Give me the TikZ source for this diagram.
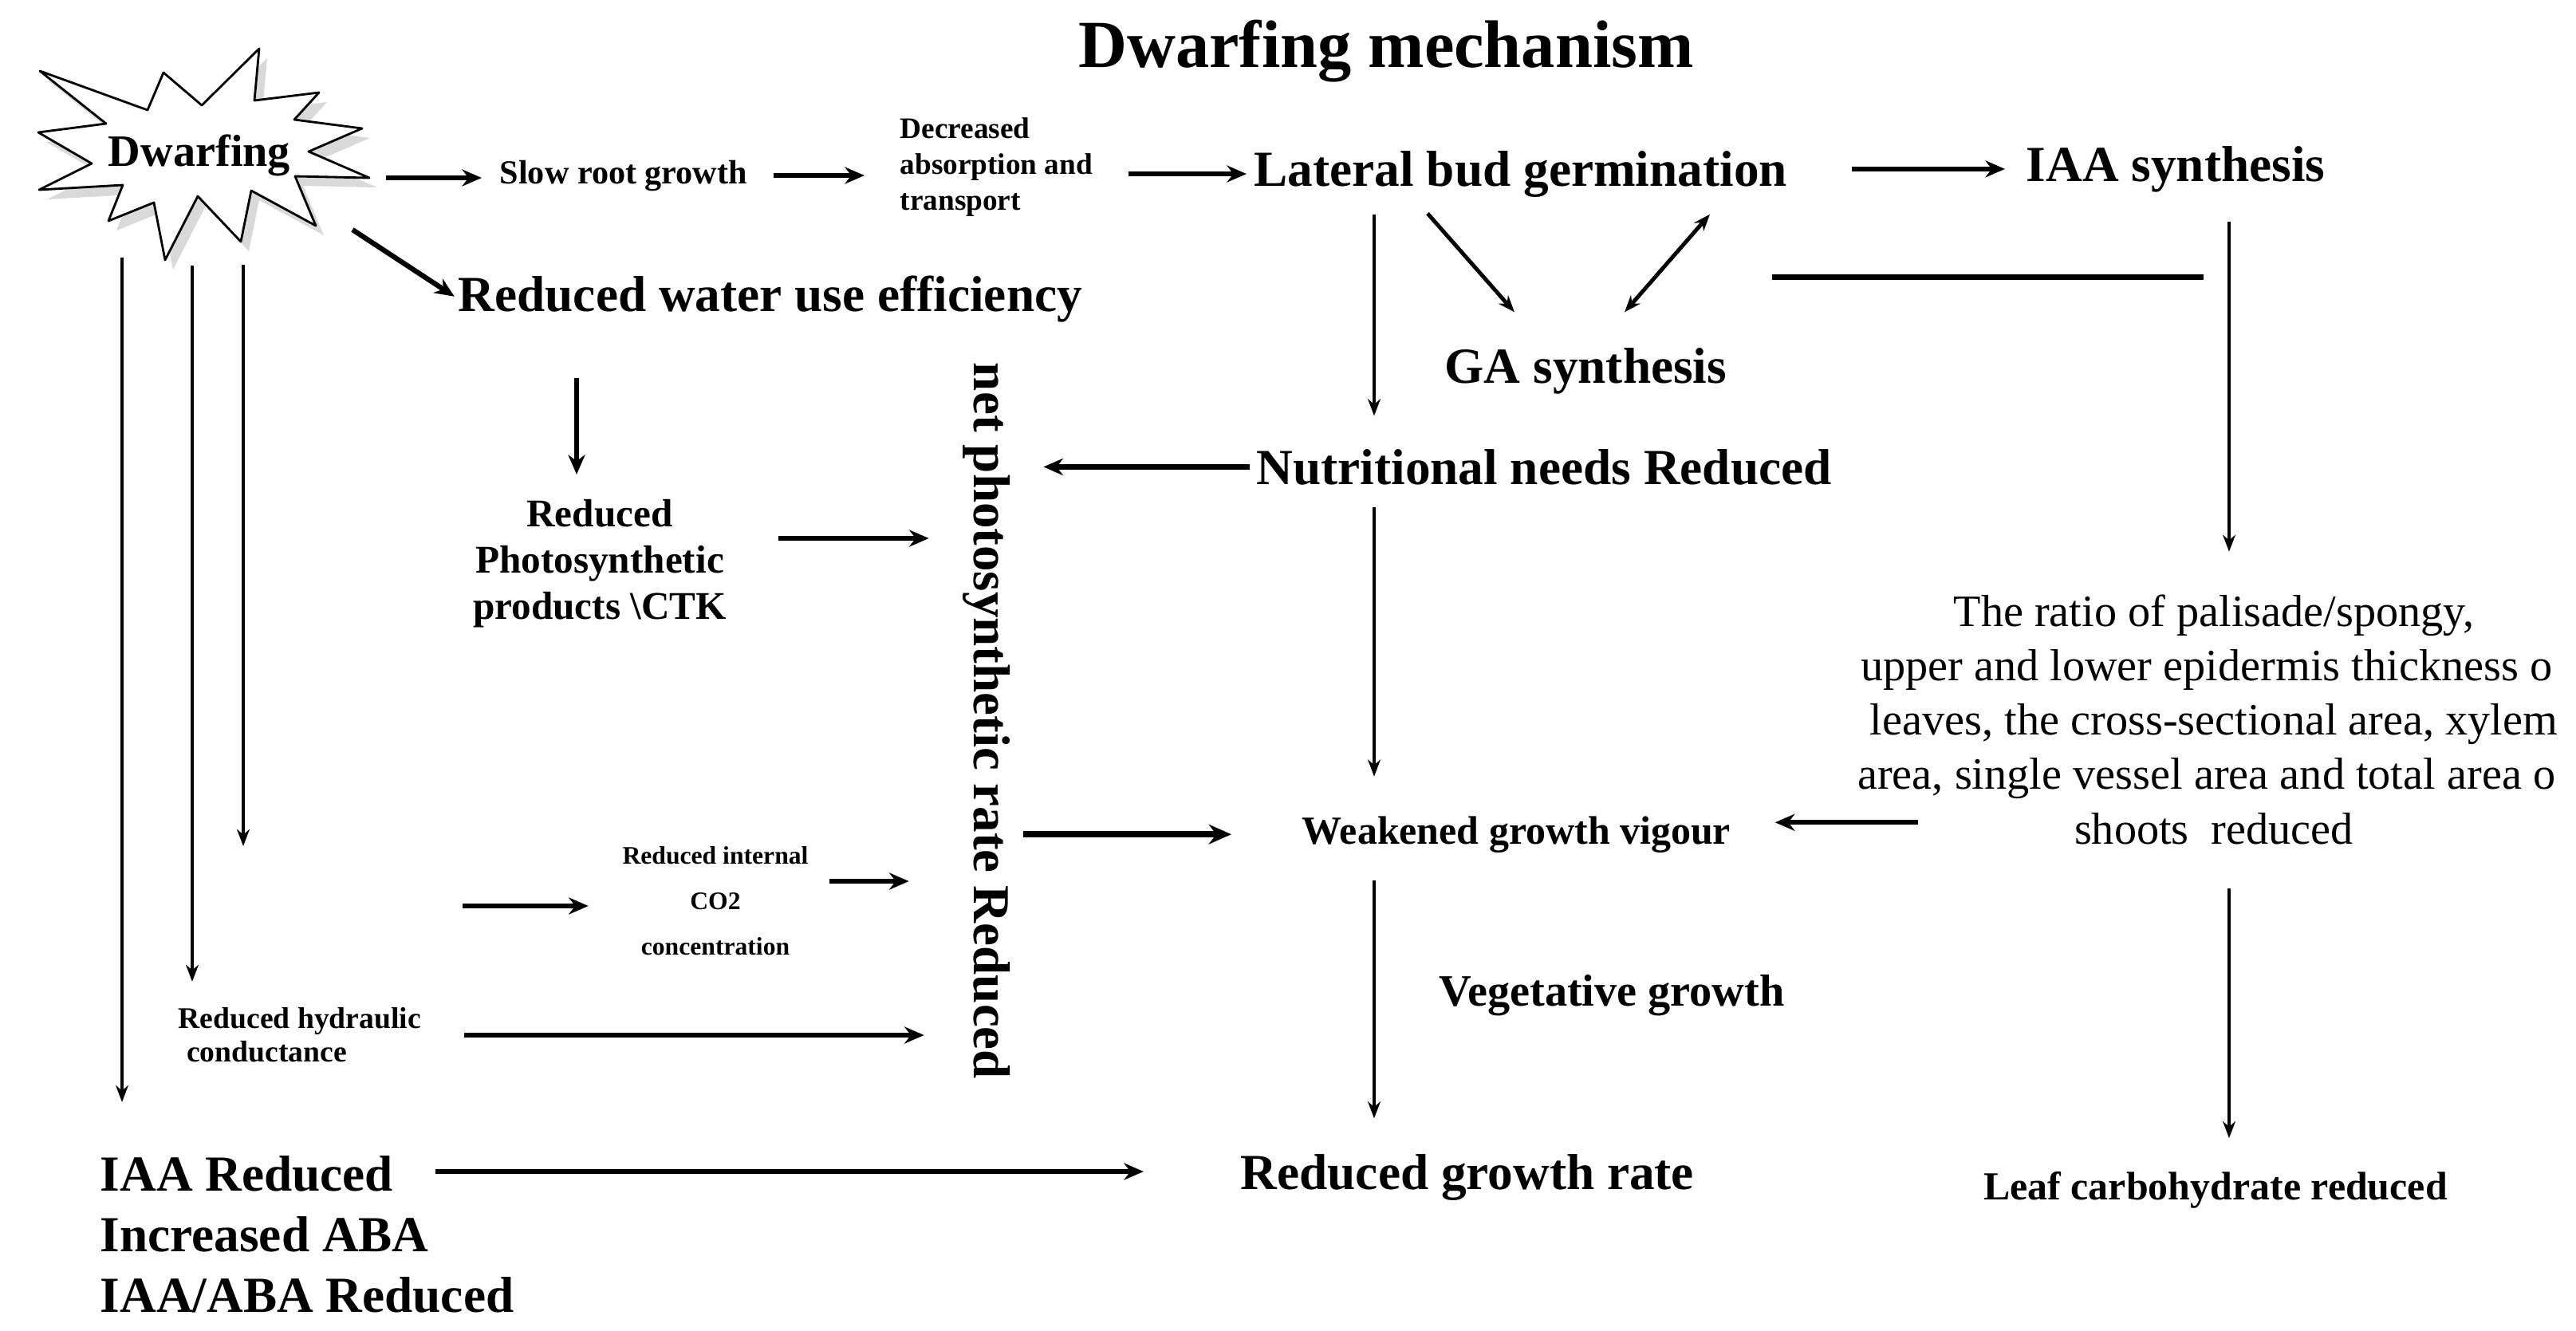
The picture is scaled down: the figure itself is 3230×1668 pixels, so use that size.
\documentclass[tikz,border=0pt]{standalone}
\usepackage{fontspec}
\setmainfont{Liberation Serif}
\usepackage{graphicx}
\usetikzlibrary{arrows.meta,calc}
\newcommand{\fsz}[2]{\fontsize{#1}{#2}\selectfont}

\begin{document}
\begin{tikzpicture}[x=0.01cm, y=-0.01cm, line join=round,
	lbl/.style={inner sep=0pt, font=\bfseries},
	big/.style={inner sep=0pt, font=\bfseries\fsz{18}{21.6}},
	arr/.style={-{Stealth[length=6pt,width=4.5pt]}, line width=1.1pt},
	arrT/.style={-{Stealth[length=7pt,width=6pt]}, line width=1.8pt},
	burst/.style={insert path={(50,89) -- (133,155) -- (48,166) -- (115,205) -- (49,238) -- (154,232) -- (136,277) -- (193,254) -- (207,326) -- (248,246) -- (302,303) -- (315,239) -- (396,283) -- (370,221) -- (463,223) -- (387,190) -- (454,161) -- (369,150) -- (400,116) -- (319,126) -- (325,61) -- (253,132) -- (205,91) -- (185,138) -- cycle}}]
	\useasboundingbox (0,0) rectangle (3230,1668);
	\fill[black!15, shift={(10,12)}, burst];
	\draw[fill=white, line width=0.8pt, burst];

	\node[lbl, anchor=base, font=\bfseries\fsz{24}{28}] (title) at (1738,84) {Dwarfing mechanism};
	\node[lbl, anchor=base, font=\bfseries\fsz{16}{19}] (dwarf) at (250,208) {Dwarfing};
	\node[lbl, anchor=base west, font=\bfseries\fsz{12}{14}] (slow) at (626,230) {Slow root growth};
	\node[lbl, anchor=west, align=left, font=\bfseries\fsz{10.6}{12.8}] (absorb) at (1128,210) {Decreased\\absorption and\\transport};
	\node[big, anchor=base west] (lateral) at (1572,233) {Lateral bud germination};
	\node[big, anchor=base west] (iaasyn) at (2540,227) {IAA synthesis};
	\node[big, anchor=base west] (water) at (574,390) {Reduced water use efficiency};
	\node[big, anchor=base west] (ga) at (1811,480) {GA synthesis};
	\node[big, anchor=base west] (nutri) at (1575,607) {Nutritional needs Reduced};
	\node[lbl, font=\bfseries\fsz{18.5}{22}] (net) at (1237,904) {\rotatebox{-90}{net photosynthetic rate Reduced}};
	\node[lbl, align=center, font=\bfseries\fsz{14}{16.5}] (photo) at (752,707) {Reduced\\Photosynthetic\\products \textbackslash CTK};
	\node[lbl, anchor=base west, font=\bfseries\fsz{14.2}{17}] (weak) at (1632,1058) {Weakened growth vigour};
	\node[inner sep=0pt, align=center, font=\fsz{16}{19.4}] (ratio) at (2776,902) {The ratio of palisade/spongy,\\upper and lower epidermis thickness o\phantom{f}\\leaves, the cross-sectional area, xylem\\area, single vessel area and total area o\phantom{f}\\shoots~~reduced};
	\node[lbl, align=center, font=\bfseries\fsz{9}{16.2}] (co2) at (897,1130) {Reduced internal\\CO2\\concentration};
	\node[lbl, anchor=west, align=left, font=\bfseries\fsz{10.7}{12}] (hydr) at (223,1298) {Reduced hydraulic\\\hspace{3pt}conductance};
	\node[lbl, anchor=base west, font=\bfseries\fsz{16}{19}] (veg) at (1804,1261) {Vegetative growth};
	\node[big, anchor=base west] (rgr) at (1555,1491) {Reduced growth rate};
	\node[lbl, anchor=base, font=\bfseries\fsz{14.2}{17}] (leaf) at (2778,1504) {Leaf carbohydrate reduced};
	\node[big, anchor=west, align=left] (iaared) at (125,1548) {IAA Reduced\\Increased ABA\\IAA/ABA Reduced};

	\coordinate (tipE) at (463,223);
	\coordinate (exitSE) at (442,288);
	\coordinate (colA) at (1723,0);
	\coordinate (colB) at (2795,0);
	\coordinate (colC) at (723,0);
	\coordinate (rowP) at (0,675);
	\coordinate (rowC) at (0,1105);
	\coordinate (barL) at (2222,347);
	\coordinate (barR) at (2763,347);
	\coordinate (co2in) at (580,1136);
	\coordinate (stemEnd) at (305,1061);
	\coordinate (iaaout) at ($(iaared.north west)+(421,20)$);
	\coordinate (ratioout) at ($(ratio.south west)+(76,-28)$);

	\draw[arrT, shorten <=0.21cm, shorten >=0.22cm] (tipE) -- (tipE -| slow.west);
	\draw[arrT, shorten <=0.32cm, shorten >=0.44cm] (slow.east) -- (slow.east -| absorb.west);
	\draw[arrT, shorten <=0.44cm, shorten >=0.09cm] (absorb.east |- lateral.west) -- (lateral.west);
	\draw[arrT, shorten <=0.8cm, shorten >=0.26cm] (lateral.east |- iaasyn.west) -- (iaasyn.west);
	\draw[arrT, shorten >=0.05cm] (exitSE) -- (water.west);
	\draw[arr, shorten <=0.21cm, shorten >=0.41cm] (lateral.south -| colA) -- (nutri.north -| colA);
	\draw[arr, line width=1.4pt] ($(lateral.south west)+(218,20)$) -- ($(ga.north west)+(88,-44)$);
	\draw[{Stealth[length=6pt,width=4.5pt]}-{Stealth[length=6pt,width=4.5pt]}, line width=1.4pt] ($(ga.north west)+(226,-44)$) -- ($(lateral.south west)+(572,21)$);
	\draw[line width=2pt] (barL) -- (barR);
	\draw[arr, shorten <=0.37cm, shorten >=0.53cm] (iaasyn.south -| colB) -- (ratio.north -| colB);
	\draw[arrT, shorten <=0.70cm, shorten >=0.31cm] (water.south -| colC) -- (photo.north -| colC);
	\draw[arrT, shorten <=0.64cm, shorten >=0.42cm] (photo.east |- rowP) -- (net.west |- rowP);
	\draw[arrT, shorten <=0.08cm, shorten >=0.41cm] (nutri.west) -- (nutri.west -| net.east);
	\draw[arr, shorten <=0.27cm, shorten >=0.49cm] (nutri.south -| colA) -- (weak.north -| colA);
	\draw[-{Stealth[length=8pt,width=7pt]}, line width=2.4pt, shorten <=0.16cm, shorten >=0.88cm] (net.east |- weak.west) -- (weak.west);
	\draw[arrT, shorten >=0.42cm] (co2in) -- (co2in -| co2.west);
	\draw[arrT, shorten <=0.26cm, shorten >=0.67cm] (co2.east |- rowC) -- (net.west |- rowC);
	\draw[arrT, shorten <=0.53cm, shorten >=0.48cm] (hydr.east) -- (hydr.east -| net.west);
	\foreach \sx/\sy in {153/323, 241/333, 305/332} \coordinate (stem\sx) at (\sx,\sy);
	\draw[arr, shorten >=0.67cm] (stem153) -- (stem153 |- iaared.north);
	\draw[arr, shorten >=0.32cm] (stem241) -- (stem241 |- hydr.north);
	\draw[arr] (stem305) -- (stemEnd);
	\draw[arrT, shorten >=1.21cm] (iaaout) -- (iaaout -| rgr.west);
	\draw[arr, shorten <=0.34cm, shorten >=0.44cm] (weak.south -| colA) -- (rgr.north -| colA);
	\draw[arrT, shorten >=0.55cm] (ratioout) -- (ratioout -| weak.east);
	\draw[arr, shorten <=0.55cm, shorten >=0.41cm] (ratio.south -| colB) -- (leaf.north -| colB);
\end{tikzpicture}
\end{document}
